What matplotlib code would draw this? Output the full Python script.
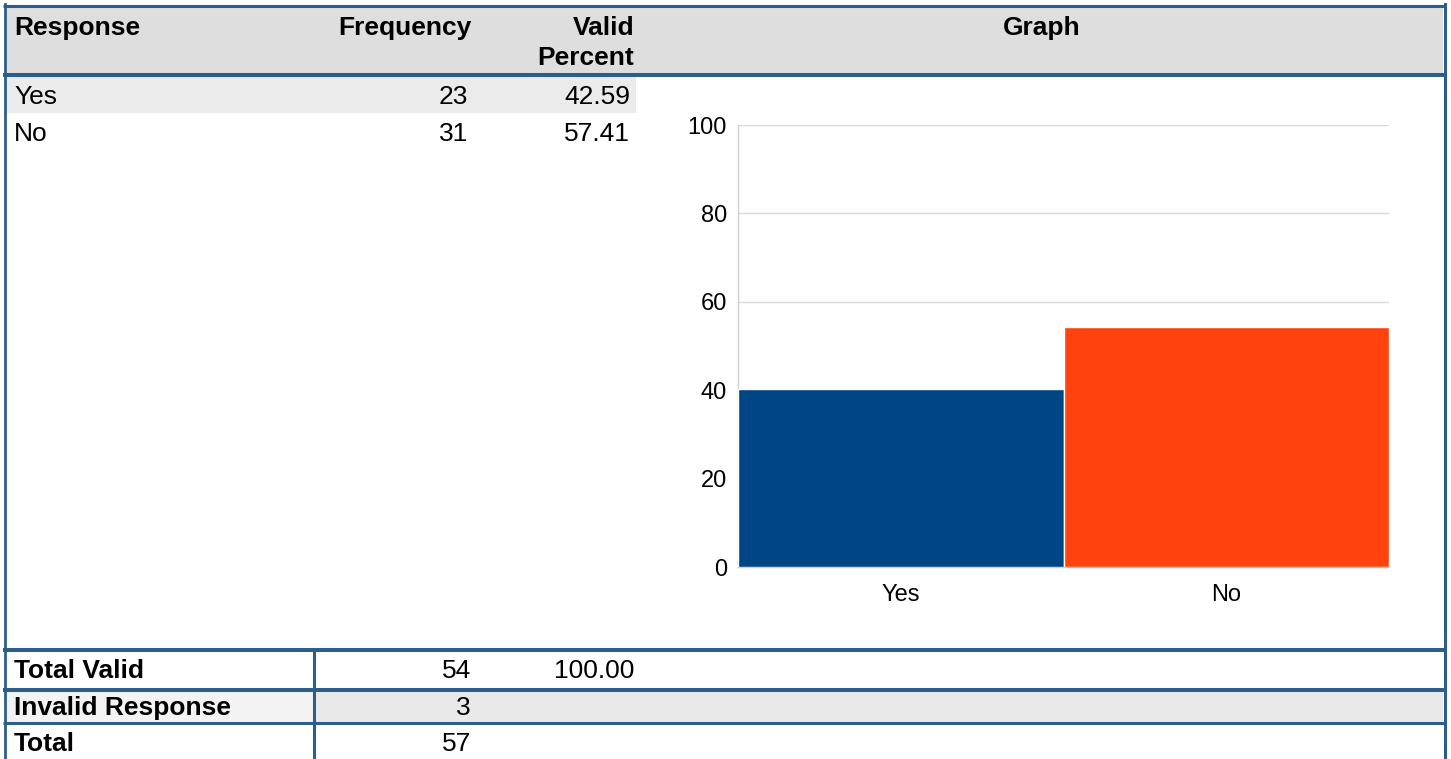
import matplotlib
matplotlib.use("Agg")
import matplotlib.pyplot as plt
from matplotlib.patches import Rectangle

#----------------data--------------------------------------------------#
header_labels = ['Response', 'Frequency', 'Valid\nPercent', 'Graph']
responses = ['Yes', 'No']
frequencies = [23, 31]
valid_percent = [42.59, 57.41]
graph_values = [40.35, 54.39]          # bar heights as drawn (share of all 57)
bar_colors = ['#004586', '#ff420e']
total_labels = ['Total Valid', 'Invalid Response', 'Total']
total_freq = [54, 3, 57]
total_pct = ['100.00', '', '']
y_ticks = [0, 20, 40, 60, 80, 100]
#----------------------------------------------------------------------#

W, H = 1451, 759
plt.rcParams['font.family'] = ['Liberation Sans', 'DejaVu Sans']
fig = plt.figure(figsize=(W / 100, H / 100), dpi=100)

# background axes in pixel units for the table frame
tab = fig.add_axes([0, 0, 1, 1])
tab.set_xlim(0, W)
tab.set_ylim(H, 0)
tab.axis('off')

line_col = '#2d5e8a'
fs = 19

# cell shading
tab.add_patch(Rectangle((5, 7), 1438, 66, color='#dedede', lw=0))
tab.add_patch(Rectangle((5, 77), 631, 36, color='#ebebeb', lw=0))
tab.add_patch(Rectangle((5, 692), 308, 30, color='#f3f3f3', lw=0))
tab.add_patch(Rectangle((315, 692), 1128, 30, color='#e9e9e9', lw=0))

# border lines
for y, lw in [(5.5, 2.2), (75, 2.9), (650, 2.9), (690, 2.9), (723, 2.2)]:
    tab.plot([3, 1446], [y, y], color=line_col, lw=lw, solid_capstyle='butt')
tab.plot([4.5, 4.5], [4, H], color=line_col, lw=2.0)
tab.plot([1444.5, 1444.5], [4, H], color=line_col, lw=2.2)
tab.plot([314, 314], [649, H], color=line_col, lw=2.2)

# header
tab.text(14, 35, header_labels[0], fontsize=fs, fontweight='bold', va='baseline')
tab.text(471, 35, header_labels[1], fontsize=fs, fontweight='bold', va='baseline', ha='right')
v1, v2 = header_labels[2].split('\n')
tab.text(634, 35, v1, fontsize=fs, fontweight='bold', va='baseline', ha='right')
tab.text(634, 65, v2, fontsize=fs, fontweight='bold', va='baseline', ha='right')
tab.text(1042, 35, header_labels[3], fontsize=fs, fontweight='bold', va='baseline', ha='center')

# response rows
for i, (r, f, p) in enumerate(zip(responses, frequencies, valid_percent)):
    yb = 104 + 37 * i
    tab.text(14, yb, r, fontsize=fs, va='baseline')
    tab.text(468, yb, str(f), fontsize=fs, va='baseline', ha='right')
    tab.text(630, yb, '%.2f' % p, fontsize=fs, va='baseline', ha='right')

# totals
for yb, lab, f, p in zip([678, 715, 751], total_labels, total_freq, total_pct):
    tab.text(14, yb, lab, fontsize=fs, fontweight='bold', va='baseline')
    tab.text(471, yb, str(f), fontsize=fs, va='baseline', ha='right')
    tab.text(634, yb, p, fontsize=fs, va='baseline', ha='right')

#----------------bar chart---------------------------------------------#
ax = fig.add_axes([738 / W, 1 - 567 / H, (1389 - 738) / W, (567 - 125) / H])
ax.set_facecolor('none')
x = range(len(responses))
ax.bar(x, graph_values, width=1.0, color=bar_colors, edgecolor='white', linewidth=1, zorder=3)
ax.set_xlim(-0.5, len(responses) - 0.5)
ax.set_ylim(0, 100)
ax.set_yticks(y_ticks)
ax.set_xticks(list(x))
ax.set_xticklabels(responses)
ax.yaxis.grid(True, color='#d9d9d9', lw=1, zorder=0)
ax.tick_params(axis='both', length=0, labelsize=17)
ax.tick_params(axis='y', pad=8)
ax.tick_params(axis='x', pad=12)
for s in ['top', 'right']:
    ax.spines[s].set_visible(False)
for s in ['left', 'bottom']:
    ax.spines[s].set_color('#d0d0d0')
    ax.spines[s].set_linewidth(1)

fig.savefig('out.png', dpi=100)
